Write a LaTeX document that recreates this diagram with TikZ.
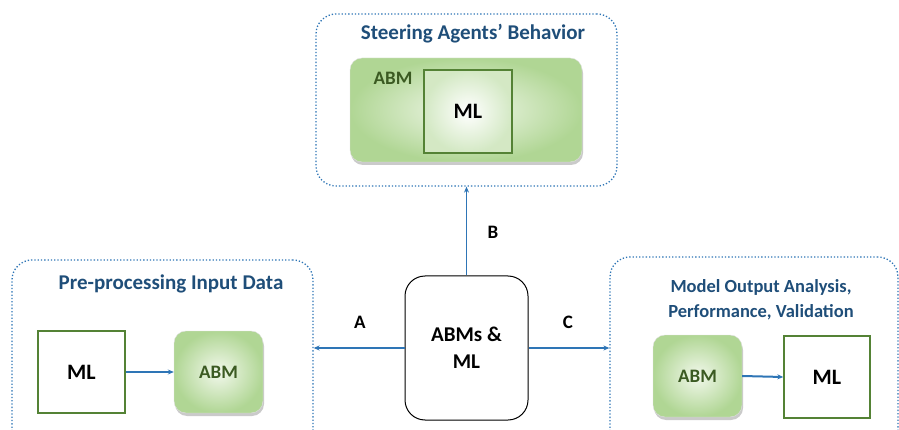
\documentclass[tikz,border=0pt]{standalone}
\usepackage{fontspec}
\setmainfont{Carlito}
\usetikzlibrary{arrows.meta,shadows}
\definecolor{dotblue}{HTML}{2E75B6}
\definecolor{titleblue}{HTML}{1F4E79}
\definecolor{mlgreen}{HTML}{548235}
\definecolor{abmtext}{HTML}{3B5A22}
\definecolor{abmedge}{HTML}{B0D694}
\definecolor{abmcore}{HTML}{F2F8EC}
\tikzset{
  group/.style={draw=dotblue, dotted, line width=1.3pt, rounded corners=20pt, inner sep=0pt},
  grouptitle/.style={text=titleblue, font=\bfseries\fontsize{21}{25}\selectfont, align=center},
  abmbox/.style={shading=radial, inner color=abmcore, outer color=abmedge, draw=black!12,
    rounded corners=12pt, inner sep=0pt, text=abmtext, font=\bfseries\fontsize{19}{23}\selectfont,
    drop shadow={shadow xshift=1pt, shadow yshift=-3pt, opacity=0.35, fill=black!60}},
  mlbox/.style={draw=mlgreen, line width=1.4pt, fill=white, inner sep=0pt,
    font=\bfseries\fontsize{22}{26}\selectfont},
  core/.style={draw=black, line width=1pt, rounded corners=20pt, fill=white, align=center,
    inner sep=0pt, font=\bfseries\fontsize{21}{27}\selectfont},
  flow/.style={draw=dotblue, line width=1.3pt, -{Stealth[length=6pt,width=5pt]}},
  innerflow/.style={flow, line width=2pt},
  tag/.style={font=\bfseries\fontsize{19}{23}\selectfont}
}
\begin{document}
\begin{tikzpicture}[x=1pt,y=-1pt]
\useasboundingbox (0,0) rectangle (899,430);
\clip (0,0) rectangle (899,430);

% top group: steering agents' behaviour
\node[group, minimum width=301pt, minimum height=172pt] (top) at (466.5,100) {};
\node[grouptitle] (toptitle) at (473,34) {Steering Agents’ Behavior};
\node[abmbox, minimum width=232pt, minimum height=104pt] (abmtop) at (466,110) {};
\node[text=abmtext, font=\bfseries\fontsize{19}{22}\selectfont] (abmtoplabel) at (393,78) {ABM};
\node[mlbox, shading=radial, inner color=white, outer color=abmedge!55, line width=1.2pt,
  minimum width=88pt, minimum height=83pt] (mltop) at (468,111.5) {ML};

% left group: input pre-processing
\node[group, minimum width=301pt, minimum height=200pt] (left) at (162.5,360) {};
\node[grouptitle] (lefttitle) at (171,284) {Pre-processing Input Data};
\node[mlbox, minimum width=87pt, minimum height=82pt] (mlleft) at (81.5,372) {ML};
\node[abmbox, minimum width=89pt, minimum height=82pt] (abmleft) at (218.5,372) {ABM};
\draw[innerflow] (mlleft.east) -- (abmleft.west);

% right group: output analysis
\node[group, minimum width=288pt, minimum height=203pt] (right) at (754,358.5) {};
\node[grouptitle, font=\bfseries\fontsize{18.5}{25}\selectfont] (righttitle) at (761,300)
  {Model Output Analysis,\\Performance, Validation};
\node[abmbox, minimum width=89pt, minimum height=82pt] (abmright) at (697.5,376) {ABM};
\node[mlbox, minimum width=86pt, minimum height=82pt] (mlright) at (827,377) {ML};
\draw[innerflow] (abmright.east) -- (mlright.west);

% central block and its links
\node[core, minimum width=123pt, minimum height=144pt] (core) at (466.5,348) {ABMs \&\\ML};
\draw[flow] (core.north) -- (top.south);
\draw[flow] (core.west) -- (core.west -| left.east);
\draw[flow] (core.east) -- (core.east -| right.west);
\node[tag] (labA) at (360,322) {A};
\node[tag] (labB) at (493,232) {B};
\node[tag] (labC) at (568,322) {C};
\end{tikzpicture}
\end{document}
